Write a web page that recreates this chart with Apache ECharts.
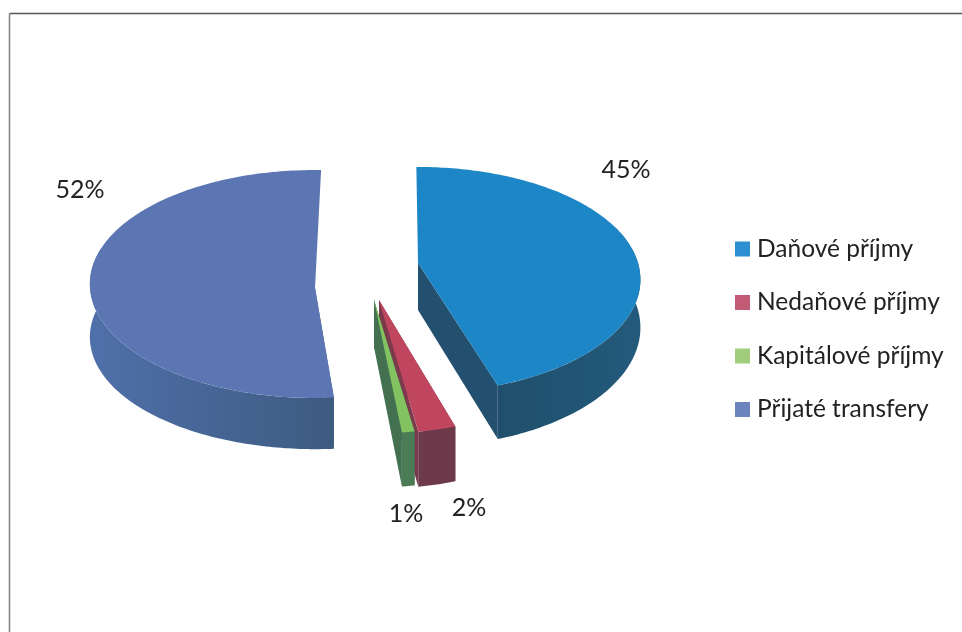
<!DOCTYPE html>
<html>
<head>
<meta charset="utf-8">
<style>html,body{margin:0;padding:0;background:#fff}#c{width:962px;height:632px;filter:blur(0.55px)}</style>
<script src="https://cdn.jsdelivr.net/npm/echarts@6/dist/echarts.min.js"></script>
</head>
<body>
<div id="c"></div>
<script>
// data
const categories = ['Daňové příjmy', 'Nedaňové příjmy', 'Kapitálové příjmy', 'Přijaté transfery'];
const shares = [45.0, 2.4, 0.8, 51.8];
const percentLabels = ['45%', '2%', '1%', '52%'];

// style
const topColors = ['#1c86c6', '#c0465f', '#82c260', '#5b76b3'];
const legendColors = ['#2c8fd2', '#c25a76', '#a0cc7c', '#6b84bd'];
const wallStops = [
  ['#1f4f6c', '#245a7c'],
  ['#6d3a4c', '#6d3a4c'],
  ['#4c7c56', '#4c7c56'],
  ['#4f70aa', '#3d5b80']
];
const cutColors = ['#22506e', '#7a3a4c', '#437050', '#3d5b80'];
// pseudo-3D projection of each exploded slice
const geometry = [
  { apex: [418, 263], a: 220, b: 113, k: 0.15, depth: 47, rot: -0.5 },
  { apex: [379, 300], a: 222, b: 116, k: 0.15, depth: 48, rot: 0.5 },
  { apex: [374, 300], a: 222, b: 116, k: 0.15, depth: 47, rot: 0.2 },
  { apex: [315, 288], a: 225, b: 114, k: -0.035, depth: 53, rot: 1.5 }
];
const labelAnchors = [[626, 170], [469, 508], [406, 514], [80, 190]];
const FONT = 'Lato, "Open Sans", sans-serif';
// the outer wall is only visible on the front part of the rim
const WALL_FROM = 70;
const WALL_TO = 290;

const total = shares.reduce((s, v) => s + v, 0);

function project(g, deg, down) {
  const t = deg * Math.PI / 180;
  const f = -Math.cos(t);
  const s = 1 + g.k * f;
  return [g.apex[0] + g.a * Math.sin(t) * s, g.apex[1] + g.b * f * s + (down ? g.depth * s : 0)];
}
function arc(g, from, to, down) {
  const pts = [];
  const n = Math.max(2, Math.ceil(Math.abs(to - from)));
  for (let i = 0; i <= n; i++) pts.push(project(g, from + (to - from) * i / n, down));
  return pts;
}
function renderSlice(params, api) {
  const i = params.seriesIndex;
  const g = geometry[i];
  const before = shares.slice(0, i).reduce((s, v) => s + v, 0);
  const from = before / total * 360 + g.rot;
  const to = from + api.value(0) / total * 360;
  const apexLow = [g.apex[0], g.apex[1] + g.depth];
  const top = arc(g, from, to, false);
  const wallFrom = Math.max(from, WALL_FROM);
  const wallTo = Math.min(to, WALL_TO);
  const wallTop = arc(g, wallFrom, wallTo, false);
  const wallLow = arc(g, wallFrom, wallTo, true);
  const children = [];
  // only the cut faces turned towards the viewer are drawn
  [from, to].forEach((d) => {
    if (Math.cos(d * Math.PI / 180) < 0) {
      children.push({
        type: 'polygon',
        shape: { points: [g.apex, project(g, d, false), project(g, d, true), apexLow] },
        style: { fill: cutColors[i] }
      });
    }
  });
  children.push({
    type: 'polygon',
    shape: { points: wallTop.concat(wallLow.slice().reverse()) },
    style: {
      fill: new echarts.graphic.LinearGradient(0, 0, 1, 0, [
        { offset: 0, color: wallStops[i][0] },
        { offset: 1, color: wallStops[i][1] }
      ])
    }
  });
  children.push({
    type: 'polygon',
    shape: { points: [g.apex].concat(top) },
    style: { fill: topColors[i] }
  });
  children.push({
    type: 'text',
    style: {
      text: percentLabels[i],
      x: labelAnchors[i][0],
      y: labelAnchors[i][1],
      fill: '#222',
      font: '25px ' + FONT,
      align: 'center',
      verticalAlign: 'middle'
    }
  });
  return { type: 'group', children };
}

// back-to-front painter's order comes from the series z
const zOrder = [2, 3, 4, 1];
const chart = echarts.init(document.getElementById('c'), null, { renderer: 'canvas' });
chart.setOption({
  animation: false,
  backgroundColor: '#fff',
  tooltip: { show: false },
  legend: {
    orient: 'vertical',
    left: 730,
    top: 231.5,
    itemWidth: 15,
    itemHeight: 15,
    itemGap: 28.5,
    icon: 'rect',
    selectedMode: false,
    data: categories,
    textStyle: { fontFamily: FONT, fontSize: 24.5, lineHeight: 24, color: '#222', padding: [0, 0, 0, 2] }
  },
  series: categories.map((name, i) => ({
    type: 'custom',
    name,
    coordinateSystem: 'none',
    z: zOrder[i],
    silent: true,
    itemStyle: { color: legendColors[i] },
    data: [[shares[i]]],
    renderItem: renderSlice
  })),
  graphic: [
    { type: 'line', shape: { x1: 9.5, y1: 13.5, x2: 962, y2: 13.5 }, style: { stroke: '#555', lineWidth: 1.4 } },
    { type: 'line', shape: { x1: 9.5, y1: 13.5, x2: 9.5, y2: 632 }, style: { stroke: '#888', lineWidth: 1.6 } }
  ]
});
</script>
</body>
</html>
